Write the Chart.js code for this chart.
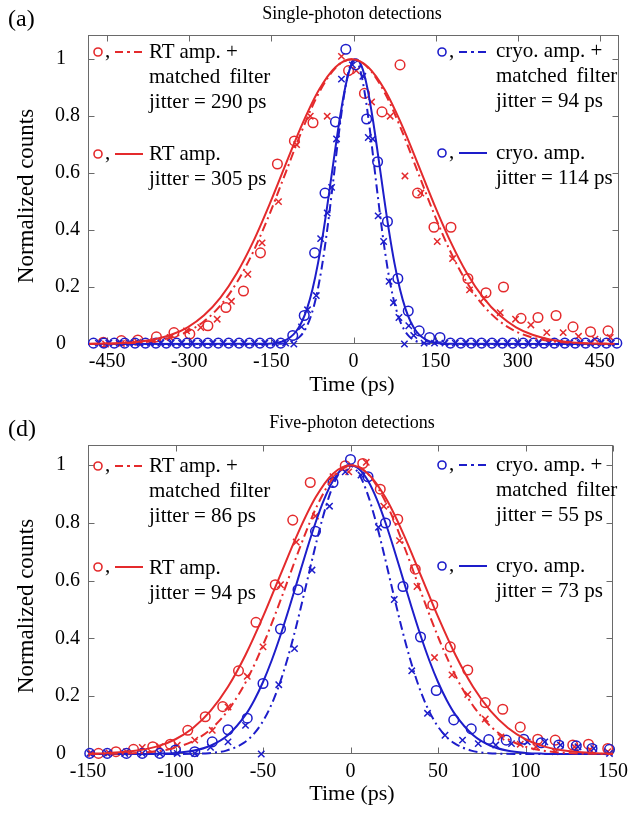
<!DOCTYPE html>
<html><head><meta charset="utf-8">
<script src="https://cdn.jsdelivr.net/npm/chart.js@4/dist/chart.umd.min.js"></script>
<style>
html,body{margin:0;padding:0;background:#fff;}
body{width:634px;height:813px;position:relative;overflow:hidden;font-family:"Liberation Serif","Times New Roman",serif;color:#000;}
canvas{position:absolute;left:0;}
.t{position:absolute;white-space:nowrap;}
svg{position:absolute;left:0;top:0;pointer-events:none;}
</style></head>
<body>
<canvas id="ca" width="634" height="400" style="top:0px"></canvas>
<canvas id="cd" width="634" height="413" style="top:400px"></canvas>
<svg id="lg" width="634" height="813"></svg>
<script>
// ---------------- DATA ----------------
const aXTicks = [-450,-300,-150,0,150,300,450];
const dXTicks = [-150,-100,-50,0,50,100,150];
const yTicks = [0,0.2,0.4,0.6,0.8,1];
const yTickLabels = ['0\u2007\u2009','0.2','0.4','0.6','0.8','1\u2007\u2009'];

// Panel (a) single-photon: measured points
const aTimeRT = [-457,-424,-394,-360,-328,-299,-266,-233,-201,-170,-139,-108,-74,-9,20,52,85,117,147,178,209,242,274,306,337,370,401,433,465];
const aRT     = [0.006,0.012,0.014,0.025,0.04,0.035,0.064,0.128,0.186,0.32,0.632,0.713,0.777,0.96,0.88,0.815,0.98,0.53,0.41,0.41,0.23,0.18,0.20,0.09,0.093,0.10,0.06,0.043,0.046];
const aTimeRTmf = [-453,-424,-394,-365,-335,-305,-279,-249,-223,-193,-167,-137,-104,-79,-48,-22,5,33,67,94,123,153,181,212,238,268,296,324,353,383,411,441,469];
const aRTmf     = [0,0.002,0.006,0.009,0.023,0.046,0.058,0.087,0.15,0.245,0.355,0.50,0.70,0.80,0.80,1.01,0.96,0.85,0.80,0.59,0.53,0.36,0.30,0.19,0.16,0.11,0.087,0.067,0.04,0.04,0.027,0.017,0.023];
const aTimeCryo = [-475,-456,-437,-418,-399,-380,-361,-342,-323,-304,-285,-266,-247,-228,-209,-190,-171,-152,-133,-111,-90,-71,-52,-33,-14,4,24,44,62,81,100,120,139,158,177,196,215,234,253,272,291,310,329,348,367,386,405,424,443,462,481];
const aCryo     = [0.003,0.003,0.003,0.003,0.003,0.003,0.003,0.003,0.003,0.003,0.003,0.003,0.003,0.003,0.003,0.003,0.003,0.003,0.003,0.03,0.10,0.32,0.53,0.78,1.035,0.98,0.79,0.64,0.43,0.23,0.116,0.046,0.023,0.023,0.003,0.003,0.003,0.003,0.003,0.003,0.003,0.003,0.003,0.003,0.003,0.003,0.003,0.003,0.003,0.003,0.003];
const aTimeCryoMf = [-466,-447,-428,-409,-390,-371,-352,-333,-314,-295,-276,-257,-238,-219,-200,-181,-162,-143,-124,-109,-95,-84,-68,-60,-48,-40,-31,-22,-2,17,27,35,45,55,65,73,83,93,101,110,129,148,167,186,205,224,243,262,281,300,319,338,357,376,395,414,433,452,471];
const aCryoMf     = [0.003,0.003,0.003,0.003,0.003,0.003,0.003,0.003,0.003,0.003,0.003,0.003,0.003,0.003,0.003,0.003,0.003,0.003,0.003,0.0,0.06,0.12,0.17,0.37,0.46,0.55,0.72,0.93,0.98,0.94,0.725,0.72,0.45,0.36,0.22,0.145,0.093,0.0,0.064,0.03,0.003,0.003,0.003,0.003,0.003,0.003,0.003,0.003,0.003,0.003,0.003,0.003,0.003,0.003,0.003,0.003,0.003,0.003,0.003];

// Panel (a) fitted curves
const aFitTimeRT = [-483,-453,-423,-393,-363,-333,-303,-273,-243,-213,-183,-153,-123,-93,-63,-33,-3,27,57,87,117,147,177,207,237,267,297,327,357,387,417,447,477];
const aFitRT     = [.0007,.0017,.0039,.0083,.0169,.0324,.0587,.1007,.1630,.2494,.3604,.4923,.6354,.7748,.8928,.9721,1,.9721,.8928,.7748,.6354,.4923,.3604,.2494,.1630,.1007,.0587,.0324,.0169,.0083,.0039,.0017,.0007];
const aFitRTmf   = [.0003,.0009,.0022,.0051,.0111,.0228,.0439,.0796,.1353,.2163,.3247,.4578,.6065,.7548,.8825,.9692,1,.9692,.8825,.7548,.6065,.4578,.3247,.2163,.1353,.0796,.0439,.0228,.0111,.0051,.0022,.0009,.0003];
const aFitTimeCryo = [-485,-165,-145,-135,-125,-115,-105,-95,-85,-75,-65,-55,-45,-35,-25,-15,-5,5,15,25,35,45,55,65,75,85,95,105,115,125,135,145,155,175,485];
const aFitCryo     = [0,.0006,.0030,.0063,.0127,.0243,.0439,.0756,.1234,.1915,.2821,.3947,.5243,.6615,.7926,.9018,.9745,1,.9745,.9018,.7926,.6615,.5243,.3947,.2821,.1915,.1234,.0756,.0439,.0243,.0127,.0063,.0030,.0006,0];
const aFitTimeCryoMf = [-485,-148,-128,-118,-108,-98,-88,-78,-68,-58,-48,-38,-28,-18,-8,2,12,22,32,42,52,62,72,82,92,102,112,122,132,152,485];
const aFitCryoMf     = [0,.0003,.0021,.0052,.0120,.0259,.0519,.0966,.1670,.2685,.4013,.5574,.7199,.8641,.9641,1,.9641,.8641,.7199,.5574,.4013,.2685,.1670,.0966,.0519,.0259,.0120,.0052,.0021,.0003,0];

// Panel (d) five-photon: measured points
const dTimeRT = [-144,-134,-124,-113,-103,-93,-83,-73,-64,-54,-43,-33,-23,-3,7,17,27,37,47,57,67,77,87,97,107,117,127,136,147];
const dRT     = [0.002,0.008,0.016,0.025,0.034,0.082,0.129,0.164,0.288,0.456,0.586,0.81,0.94,0.998,1.006,0.917,0.813,0.64,0.516,0.371,0.291,0.178,0.155,0.093,0.051,0.048,0.031,0.034,0.019];
const dTimeRTmf = [-148,-138,-128,-119,-109,-99,-89,-79,-70,-59,-50,-40,-31,-20,-10,-1,9,19,28,38,48,58,67,77,86,97,106,117,128,137,147];
const dRTmf     = [0.002,0.004,0.008,0.023,0.025,0.03,0.048,0.082,0.163,0.269,0.371,0.586,0.734,0.824,0.96,0.977,1.01,0.858,0.739,0.58,0.334,0.274,0.206,0.121,0.059,0.034,0.025,0.008,0.025,0.015,0.008];
const dTimeCryo = [-149,-139,-128,-119,-109,-100,-89,-79,-70,-59,-50,-40,-30,-20,-10,0,10,20,30,40,49,59,69,79,89,99,109,119,129,138,148];
const dCryo     = [0.002,0.002,0.002,0.002,0.002,0.014,0.008,0.042,0.084,0.124,0.244,0.433,0.569,0.771,0.94,1.02,0.96,0.8,0.58,0.405,0.22,0.118,0.087,0.05,0.048,0.051,0.039,0.031,0.028,0.019,0.016];
const dTimeCryoMf = [-149,-139,-129,-119,-109,-99,-89,-80,-70,-60,-51,-41,-32,-22,-12,-3,6,16,25,35,44,54,64,73,83,92,101,111,120,130,139,148];
const dCryoMf     = [0.002,0.002,0.002,0.002,0.002,0.002,0.002,0.023,0.042,0.099,0.0,0.24,0.365,0.637,0.858,0.977,0.966,0.785,0.535,0.288,0.141,0.065,0.048,0.036,0.031,0.036,0.042,0.042,0.031,0.025,0.019,0.002];

// Panel (d) fitted curves
const dFitTimeRT = [-150,-140,-130,-120,-110,-100,-90,-80,-70,-60,-50,-40,-30,-20,-10,0,10,20,30,40,50,60,70,80,90,100,110,120,130,140,150];
const dFitRT     = [.0012,.0029,.0066,.0138,.0273,.0511,.0899,.1490,.2328,.3427,.4754,.6213,.7651,.8878,.9707,1,.9707,.8878,.7651,.6213,.4754,.3427,.2328,.1490,.0899,.0511,.0273,.0138,.0066,.0029,.0012];
const dFitTimeRTmf = [-149,-139,-129,-119,-109,-99,-89,-79,-69,-59,-49,-39,-29,-19,-9,1,11,21,31,41,51,61,71,81,91,101,111,121,131,141,150];
const dFitRTmf     = [.0002,.0006,.0018,.0045,.0107,.0234,.0478,.0905,.1590,.2590,.3913,.5486,.7133,.8606,.9632,1,.9632,.8606,.7133,.5486,.3913,.2590,.1590,.0905,.0478,.0234,.0107,.0045,.0018,.0006,.0002];
const dFitTimeCryo = [-150,-120,-110,-100,-90,-80,-70,-60,-55,-50,-45,-40,-35,-30,-25,-20,-15,-10,-5,0,5,10,15,20,25,30,35,40,45,50,55,60,70,80,90,100,110,120,150];
const dFitCryo     = [0,.0003,.0012,.0039,.0111,.0286,.0657,.1353,.1863,.2494,.3247,.4111,.5063,.6065,.7066,.8007,.8825,.9460,.9862,1,.9862,.9460,.8825,.8007,.7066,.6065,.5063,.4111,.3247,.2494,.1863,.1353,.0657,.0286,.0111,.0039,.0012,.0003,0];
const dFitTimeCryoMf = [-150,-101,-91,-81,-71,-61,-56,-51,-46,-41,-36,-31,-26,-21,-16,-11,-6,-1,4,9,14,19,24,29,34,39,44,49,54,59,69,79,89,99,150];
const dFitCryoMf     = [0,.0001,.0007,.0030,.0118,.0384,.0646,.1040,.1599,.2349,.3299,.4427,.5679,.6962,.8157,.9134,.9776,1,.9776,.9134,.8157,.6962,.5679,.4427,.3299,.2349,.1599,.1040,.0646,.0384,.0118,.0030,.0007,.0001,0];

const aLegend = [['RT amp. +','matched filter','jitter = 290 ps'],['RT amp.','jitter = 305 ps'],['cryo. amp. +','matched filter','jitter = 94 ps'],['cryo. amp.','jitter = 114 ps']];
const dLegend = [['RT amp. +','matched filter','jitter = 86 ps'],['RT amp.','jitter = 94 ps'],['cryo. amp. +','matched filter','jitter = 55 ps'],['cryo. amp.','jitter = 73 ps']];

// ---------------- STYLE / RENDER ----------------
const RED = '#e42a2c', BLUE = '#1d1dca', FONT = "'Liberation Serif','Times New Roman',serif";
const DASHDOT = [9,4,2,4];
Chart.defaults.font.family = FONT;

const pts = (xs, ys) => xs.map((x,i)=>({x:x, y:ys[i]}));
const curve = (xs, ys, color, dash) => ({type:'scatter', data:pts(xs,ys), showLine:true, pointRadius:0, borderColor:color, borderWidth:2, borderDash:dash, cubicInterpolationMode:'monotone', fill:false, clip:false});
const circles = (xs, ys, color) => ({type:'scatter', data:pts(xs,ys), pointStyle:'circle', pointRadius:4.8, pointBorderWidth:1.5, borderColor:color, backgroundColor:'rgba(0,0,0,0)', clip:false});
const crosses = (xs, ys, color) => ({type:'scatter', data:pts(xs,ys), pointStyle:'crossRot', pointRadius:4.5, pointBorderWidth:1.5, borderColor:color, backgroundColor:color, clip:false});

const framePlugin = {
  id:'frame',
  beforeDatasetsDraw(chart, args, opts){
    const {ctx, chartArea:a, scales} = chart;
    ctx.save();
    ctx.strokeStyle = '#6a6a6a'; ctx.lineWidth = 1;
    const L = Math.round(a.left)+0.5, R = Math.round(a.right)-0.5, T = Math.round(a.top)+0.5, B = Math.round(a.bottom)-0.5;
    ctx.strokeRect(L, T, R-L, B-T);
    ctx.beginPath();
    for (const v of opts.xt){ const p = Math.round(scales.x.getPixelForValue(v))+0.5; ctx.moveTo(p,B); ctx.lineTo(p,B-6); ctx.moveTo(p,T); ctx.lineTo(p,T+6); }
    for (const v of opts.yt){ const p = Math.round(scales.y.getPixelForValue(v))+0.5; ctx.moveTo(L,p); ctx.lineTo(L+6,p); ctx.moveTo(R,p); ctx.lineTo(R-6,p); }
    ctx.stroke();
    ctx.restore();
  }
};

function makeChart(id, datasets, xmin, xmax, xt, ymax, padTop, xh){
  return new Chart(document.getElementById(id), {
    type:'scatter',
    data:{datasets},
    options:{
      responsive:false, animation:false, devicePixelRatio:1,
      layout:{padding:{top:padTop, right:15, left:0, bottom:0}},
      plugins:{legend:{display:false}, tooltip:{enabled:false}, frame:{xt:xt, yt:yTicks}},
      scales:{
        x:{type:'linear', min:xmin, max:xmax,
           afterBuildTicks:s=>{ s.ticks = xt.map(v=>({value:v})); },
           afterFit:s=>{ s.height = xh; },
           grid:{display:false, drawTicks:false}, border:{display:false},
           ticks:{color:'#000', font:{size:20, family:FONT}, padding:6, maxRotation:0, autoSkip:false, callback:v=>String(v)}},
        y:{type:'linear', min:0, max:ymax,
           afterBuildTicks:s=>{ s.ticks = yTicks.map(v=>({value:v})); },
           afterFit:s=>{ s.width = 88; },
           grid:{display:false, drawTicks:false}, border:{display:false},
           ticks:{color:'#000', font:{size:20, family:FONT}, padding:8, autoSkip:false, callback:(v)=>{ const i = yTicks.findIndex(t=>Math.abs(t-v)<1e-9); return i>=0 ? yTickLabels[i] : ''; }}}
      }
    },
    plugins:[framePlugin]
  });
}

makeChart('ca', [
  curve(aFitTimeRT, aFitRT, RED, []),
  curve(aFitTimeRT, aFitRTmf, RED, DASHDOT),
  curve(aFitTimeCryo, aFitCryo, BLUE, []),
  curve(aFitTimeCryoMf, aFitCryoMf, BLUE, DASHDOT),
  crosses(aTimeCryoMf, aCryoMf, BLUE),
  circles(aTimeCryo, aCryo, BLUE),
  crosses(aTimeRTmf, aRTmf, RED),
  circles(aTimeRT, aRT, RED)
], -485, 485, aXTicks, 1.085, 35, 56);

makeChart('cd', [
  curve(dFitTimeRT, dFitRT, RED, []),
  curve(dFitTimeRTmf, dFitRTmf, RED, DASHDOT),
  curve(dFitTimeCryo, dFitCryo, BLUE, []),
  curve(dFitTimeCryoMf, dFitCryoMf, BLUE, DASHDOT),
  crosses(dTimeCryoMf, dCryoMf, BLUE),
  circles(dTimeCryo, dCryo, BLUE),
  crosses(dTimeRTmf, dRTmf, RED),
  circles(dTimeRT, dRT, RED)
], -150, 150, dXTicks, 1.07, 45, 59);

// ---------------- TEXT ----------------
function txt(s, x, baseline, size, align, extra){
  const d = document.createElement('div');
  d.className = 't'; d.textContent = s;
  d.style.fontSize = size+'px'; d.style.lineHeight = size+'px';
  d.style.top = (baseline - 0.8375*size)+'px';
  if (align==='center'){ d.style.left = x+'px'; d.style.transform='translateX(-50%)'; }
  else d.style.left = x+'px';
  if (extra) Object.assign(d.style, extra);
  document.body.appendChild(d);
  return d;
}
function vtxt(s, cx, cy, size){
  const d = document.createElement('div');
  d.className='t'; d.textContent=s;
  d.style.fontSize=size+'px'; d.style.lineHeight=size+'px';
  d.style.left=cx+'px'; d.style.top=cy+'px';
  d.style.transform='translate(-50%,-50%) rotate(-90deg)';
  document.body.appendChild(d);
}
txt('(a)', 8, 26, 24);
txt('Single-photon detections', 352, 19, 18, 'center');
vtxt('Normalized counts', 25, 196, 23);
txt('Time (ps)', 352, 391, 22, 'center');
txt('(d)', 8, 436, 24);
txt('Five-photon detections', 352, 428, 18, 'center');
vtxt('Normalized counts', 25, 606, 23);
txt('Time (ps)', 352, 800, 22, 'center');

const svg = document.getElementById('lg');
const NS = 'http://www.w3.org/2000/svg';
function sv(tag, attrs){ const e = document.createElementNS(NS, tag); for (const k in attrs) e.setAttribute(k, attrs[k]); svg.appendChild(e); }
function legendEntry(lines, color, dashed, mx, my, tx, base){
  sv('circle', {cx:mx, cy:my, r:4, fill:'none', stroke:color, 'stroke-width':1.6});
  txt(',', mx+7, my+6, 21);
  const lx0 = mx+17, lx1 = mx+45;
  sv('line', {x1:lx0, y1:my, x2:lx1, y2:my, stroke:color, 'stroke-width':2, 'stroke-dasharray': dashed ? '8 4 3 4 8' : 'none'});
  lines.forEach((s,i)=> txt(s, tx, base + i*25, 21, 'left', s==='matched filter' ? {wordSpacing:'4px'} : null));
}
legendEntry(aLegend[0], RED, true, 98, 52, 149, 59);
legendEntry(aLegend[1], RED, false, 98, 154, 149, 161);
legendEntry(aLegend[2], BLUE, true, 442, 52, 496, 58);
legendEntry(aLegend[3], BLUE, false, 442, 153, 496, 160);
legendEntry(dLegend[0], RED, true, 98, 466, 149, 473);
legendEntry(dLegend[1], RED, false, 98, 567, 149, 575);
legendEntry(dLegend[2], BLUE, true, 442, 465, 496, 472);
legendEntry(dLegend[3], BLUE, false, 442, 566, 496, 573);
</script>
</body></html>
